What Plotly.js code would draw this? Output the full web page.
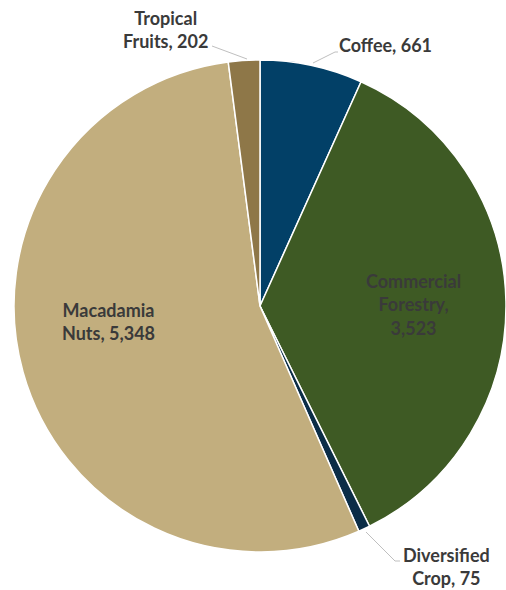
<!DOCTYPE html>
<html>
<head>
<meta charset="utf-8">
<script src="https://cdn.plot.ly/plotly-3.0.1.min.js"></script>
<style>html,body{margin:0;padding:0;background:#fff;}#chart{width:506px;height:590px;}</style>
</head>
<body>
<div id="chart"></div>
<script>
// Data
const categories = ["Coffee", "Commercial Forestry", "Diversified Crop", "Macadamia Nuts", "Tropical Fruits"];
const values = [661, 3523, 75, 5348, 202];
const labelLines = [["Coffee, 661"], ["Commercial", "Forestry,", "3,523"], ["Diversified", "Crop, 75"], ["Macadamia", "Nuts, 5,348"], ["Tropical", "Fruits, 202"]];

// Styles
const colors = ["#024067", "#3E5A24", "#0B2D47", "#C2AE7E", "#8E7748"];
const W = 506, H = 590;
const px = x => x / W, py = y => 1 - y / H;

// label placements (pixels) and leader lines
const labelPos = [[385, 45], [413, 304], [446, 566], [108, 322], [165, 30]];
const leaders = [
  [[313, 63], [335, 52], [338, 52]],
  null,
  [[366, 532], [395, 561], [400, 561]],
  null,
  [[247, 59], [212, 46]]
];

const annotations = categories.map((c, i) => ({
  xref: 'paper', yref: 'paper',
  x: px(labelPos[i][0]), y: py(labelPos[i][1]),
  xanchor: 'center', yanchor: 'middle',
  text: labelLines[i].map(s => '<b>' + s + '</b>').join('<br>'),
  showarrow: false, align: 'center',
  font: {family: 'Lato, "Open Sans", sans-serif', size: 18, color: '#3A3A3A'}
}));

const shapes = [];
leaders.forEach(pts => {
  if (!pts) return;
  let path = pts.map((p, j) => (j ? 'L' : 'M') + px(p[0]) + ',' + py(p[1])).join(' ');
  shapes.push({type: 'path', xref: 'paper', yref: 'paper', path: path, line: {color: '#BFBFBF', width: 1}});
});

const cx = 260, cy = 306, r = 246;
const trace = {
  type: 'pie',
  labels: categories,
  values: values,
  sort: false,
  direction: 'clockwise',
  rotation: 0,
  textinfo: 'none',
  hoverinfo: 'label+value',
  marker: {colors: colors, line: {color: '#FFFFFF', width: 1.5}},
  domain: {x: [(cx - r) / W, (cx + r) / W], y: [(H - cy - r) / H, (H - cy + r) / H]},
  showlegend: false
};

Plotly.newPlot('chart', [trace], {
  width: W, height: H,
  margin: {l: 0, r: 0, t: 0, b: 0},
  paper_bgcolor: '#FFFFFF',
  showlegend: false,
  annotations: annotations,
  shapes: shapes
}, {displayModeBar: false, staticPlot: true});
</script>
</body>
</html>
